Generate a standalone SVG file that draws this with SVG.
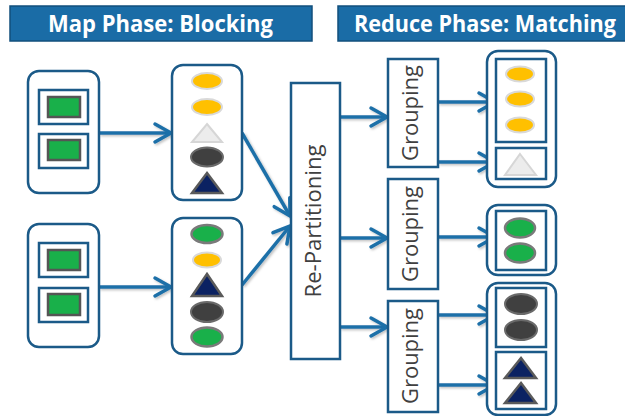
<svg xmlns="http://www.w3.org/2000/svg" width="625" height="416" viewBox="0 0 625 416">
<style>
.banner{fill:#1a6ca6;stroke:#124f7c;stroke-width:1.5}
.title{font-family:"Open Sans","Liberation Sans",sans-serif;font-weight:bold;font-size:24px;fill:#ffffff}
.node{fill:#ffffff;stroke:#1b5a88;stroke-width:2.5}
.box{fill:#ffffff;stroke:#1b5a88;stroke-width:2.5}
.lbl{font-family:"Open Sans","Liberation Sans",sans-serif;font-size:21px;fill:#404040;text-anchor:middle}
.grn{fill:#19b04a;stroke:#555555;stroke-width:2.5}
.gel{fill:#19b04a;stroke:#7a7a7a;stroke-width:2.5}
.yel{fill:#ffc000;stroke:#d9d9d9;stroke-width:2}
.dk{fill:#404040;stroke:#6a6a6a;stroke-width:2}
.lt{fill:#ececec;stroke:#d6d6d6;stroke-width:2}
.nv{fill:#0b2262;stroke:#5a5a5a;stroke-width:2.5}
.con{fill:none;stroke:#1f6fa8;stroke-width:3.5;marker-end:url(#arr)}
</style>
<defs>
<marker id="arr" markerUnits="userSpaceOnUse" viewBox="-20 -12 24 24" refX="0" refY="0" markerWidth="24" markerHeight="24" orient="auto">
<path d="M-16,-9 L0,0 L-16,9" fill="none" stroke="#1f6fa8" stroke-width="3.5" stroke-linecap="round"/>
</marker>
<filter id="sh" x="-10%" y="-10%" width="130%" height="130%">
<feDropShadow dx="1.5" dy="1.5" stdDeviation="1.2" flood-color="#000" flood-opacity="0.25"/>
</filter>
</defs>

<g id="banner-map">
<rect class="banner" x="10" y="6" width="302" height="35"/>
<text class="title" x="48" y="32" textLength="225" lengthAdjust="spacingAndGlyphs">Map Phase: Blocking</text>
</g>
<g id="banner-reduce">
<rect class="banner" x="338" y="6" width="292" height="35"/>
<text class="title" x="354" y="32" textLength="262" lengthAdjust="spacingAndGlyphs">Reduce Phase: Matching</text>
</g>

<g id="connectors" filter="url(#sh)">
<line class="con" x1="99" y1="133" x2="171" y2="133"/>
<line class="con" x1="99" y1="287" x2="171" y2="287"/>
<line class="con" x1="242" y1="133" x2="290" y2="216"/>
<line class="con" x1="242" y1="285" x2="290" y2="226"/>
<line class="con" x1="340" y1="117" x2="387" y2="117"/>
<line class="con" x1="340" y1="238" x2="387" y2="238"/>
<line class="con" x1="340" y1="327" x2="387" y2="327"/>
<line class="con" x1="438" y1="102" x2="495" y2="102"/>
<line class="con" x1="438" y1="162" x2="495" y2="162"/>
<line class="con" x1="438" y1="237" x2="495" y2="237"/>
<line class="con" x1="438" y1="315" x2="495" y2="315"/>
<line class="con" x1="438" y1="385" x2="495" y2="385"/>
</g>

<g id="input-1">
<rect class="node" x="28" y="71" width="71" height="122" rx="11"/>
<rect class="box" x="39" y="90" width="49" height="34"/>
<rect class="grn" x="48" y="97" width="32" height="20"/>
<rect class="box" x="39" y="134" width="49" height="34"/>
<rect class="grn" x="48" y="140" width="32" height="20"/>
</g>
<g id="input-2">
<rect class="node" x="28" y="224" width="71" height="123" rx="11"/>
<rect class="box" x="39" y="243" width="49" height="34"/>
<rect class="grn" x="48" y="250" width="32" height="20"/>
<rect class="box" x="39" y="288" width="49" height="34"/>
<rect class="grn" x="48" y="294" width="32" height="21"/>
</g>

<g id="block-1">
<rect class="node" x="172" y="65" width="70" height="135" rx="11"/>
<ellipse class="yel" cx="207" cy="81" rx="15" ry="8"/>
<ellipse class="yel" cx="207" cy="107" rx="15" ry="8"/>
<polygon class="lt" points="207,124 222,142 192,142"/>
<ellipse class="dk" cx="207" cy="157" rx="16" ry="9.5"/>
<polygon class="nv" points="207,173 222,193 192,193"/>
</g>
<g id="block-2">
<rect class="node" x="172" y="218" width="70" height="136" rx="11"/>
<ellipse class="gel" cx="207" cy="234" rx="15.5" ry="9"/>
<ellipse class="yel" cx="207" cy="260" rx="14" ry="7.5"/>
<polygon class="nv" points="207,274 222,296 192,296"/>
<ellipse class="dk" cx="207" cy="312" rx="16" ry="10"/>
<ellipse class="gel" cx="207" cy="337" rx="15.5" ry="9.5"/>
</g>

<g id="repartitioning">
<rect class="box" x="291" y="83" width="49" height="276"/>
<text class="lbl" transform="translate(321,221) rotate(-90)" textLength="153" lengthAdjust="spacingAndGlyphs">Re-Partitioning</text>
</g>

<g id="grouping-1">
<rect class="box" x="388" y="59" width="50" height="108"/>
<text class="lbl" transform="translate(418,113) rotate(-90)" textLength="96" lengthAdjust="spacingAndGlyphs">Grouping</text>
</g>
<g id="grouping-2">
<rect class="box" x="388" y="179" width="50" height="110"/>
<text class="lbl" transform="translate(418,234) rotate(-90)" textLength="96" lengthAdjust="spacingAndGlyphs">Grouping</text>
</g>
<g id="grouping-3">
<rect class="box" x="388" y="301" width="50" height="111"/>
<text class="lbl" transform="translate(418,356) rotate(-90)" textLength="96" lengthAdjust="spacingAndGlyphs">Grouping</text>
</g>

<g id="match-1">
<rect class="node" x="487" y="51" width="69" height="136" rx="11"/>
<rect class="box" x="496" y="59" width="50" height="83"/>
<ellipse class="yel" cx="520" cy="74" rx="14" ry="7.5"/>
<ellipse class="yel" cx="520" cy="99" rx="14" ry="7.5"/>
<ellipse class="yel" cx="520" cy="125" rx="14" ry="7.5"/>
<rect class="box" x="496" y="148" width="50" height="31"/>
<polygon class="lt" points="520,154 536,175 505,175"/>
</g>
<g id="match-2">
<rect class="node" x="487" y="205" width="69" height="70" rx="11"/>
<rect class="box" x="496" y="211" width="50" height="59"/>
<ellipse class="gel" cx="520" cy="228" rx="15" ry="9.5"/>
<ellipse class="gel" cx="520" cy="253" rx="15" ry="9.5"/>
</g>
<g id="match-3">
<rect class="node" x="487" y="283" width="69" height="132" rx="11"/>
<rect class="box" x="496" y="288" width="50" height="59"/>
<ellipse class="dk" cx="521" cy="304" rx="16" ry="10"/>
<ellipse class="dk" cx="521" cy="330" rx="16" ry="10"/>
<rect class="box" x="496" y="352" width="50" height="57"/>
<polygon class="nv" points="521,358 536,378 505,378"/>
<polygon class="nv" points="521,383 536,403 505,403"/>
</g>
</svg>
